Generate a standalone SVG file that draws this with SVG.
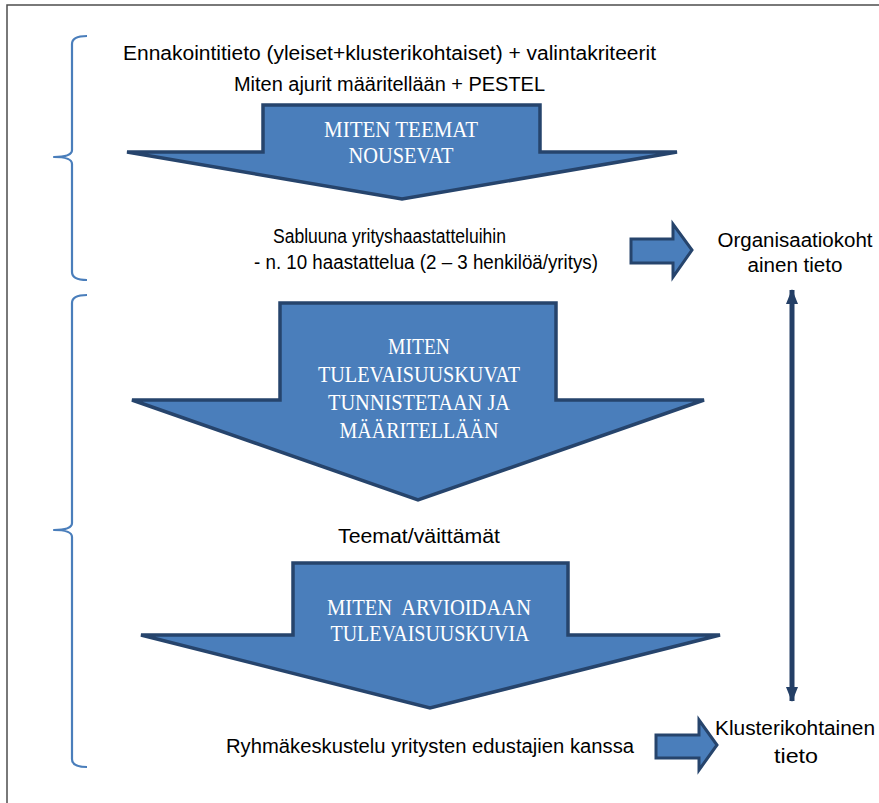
<svg xmlns="http://www.w3.org/2000/svg" width="879" height="803" viewBox="0 0 879 803">
  <style>
    .frame { fill: none; stroke: #4d4d4d; stroke-width: 1.5; }
    .brace { fill: none; stroke: #4a7ebb; stroke-width: 2.2; stroke-linejoin: round; }
    .big { fill: #4a7ebb; stroke: #26446c; stroke-width: 3.5; stroke-linejoin: miter; }
    .side { fill: #4a7ebb; stroke: #26446c; stroke-width: 3; stroke-linejoin: miter; }
    .lbl { font-family: "Liberation Sans", Arial, sans-serif; font-size: 19.5px; fill: #000; text-anchor: middle; }
    .in { font-family: "Liberation Serif", "Times New Roman", serif; font-size: 23px; fill: #ffffff; text-anchor: middle; }
  </style>
  <defs>
    <marker id="head" viewBox="0 0 15 12" refX="14" refY="6" markerWidth="15" markerHeight="12" markerUnits="userSpaceOnUse" orient="auto-start-reverse">
      <path d="M0,0 L15,6 L0,12 Z" fill="#243f66"/>
    </marker>
  </defs>

  <rect width="879" height="803" fill="#ffffff"/>
  <path class="frame" d="M7,803 V5 H879"/>

  <!-- curly braces grouping the phases -->
  <g id="brace-top">
    <path class="brace" d="M87,36 Q72,36 72,44 V150 Q72,157 54,157 Q72,157 72,164 V272 Q72,280 87,280"/>
  </g>
  <g id="brace-bottom">
    <path class="brace" d="M87,295 Q72,295 72,303 V523 Q72,530 54,530 Q72,530 72,537 V759 Q72,767 87,767"/>
  </g>

  <!-- input texts -->
  <g id="inputs">
    <text class="lbl" x="389.5" y="60" textLength="533" lengthAdjust="spacingAndGlyphs">Ennakointitieto (yleiset+klusterikohtaiset) + valintakriteerit</text>
    <text class="lbl" x="389.5" y="91" textLength="311" lengthAdjust="spacingAndGlyphs">Miten ajurit määritellään + PESTEL</text>
  </g>

  <!-- phase 1 -->
  <g id="phase-themes">
    <polygon class="big" points="263,105 540,105 540,152 677,152 402,199 127,152 263,152"/>
    <text class="in" x="401" y="137" textLength="154" lengthAdjust="spacingAndGlyphs">MITEN TEEMAT</text>
    <text class="in" x="401" y="163" textLength="105" lengthAdjust="spacingAndGlyphs">NOUSEVAT</text>
  </g>

  <g id="interviews">
    <text class="lbl" x="389.5" y="243" textLength="233" lengthAdjust="spacingAndGlyphs">Sabluuna yrityshaastatteluihin</text>
    <text class="lbl" x="426" y="269" textLength="344" lengthAdjust="spacingAndGlyphs">- n. 10 haastattelua (2 – 3 henkilöä/yritys)</text>
  </g>

  <!-- phase 2 -->
  <g id="phase-scenarios">
    <polygon class="big" points="280,303 556,303 556,400 704,400 418,500 132,400 280,400"/>
    <text class="in" x="419" y="354" textLength="62" lengthAdjust="spacingAndGlyphs">MITEN</text>
    <text class="in" x="419" y="382" textLength="202" lengthAdjust="spacingAndGlyphs">TULEVAISUUSKUVAT</text>
    <text class="in" x="419" y="410" textLength="182" lengthAdjust="spacingAndGlyphs">TUNNISTETAAN JA</text>
    <text class="in" x="419" y="438" textLength="159" lengthAdjust="spacingAndGlyphs">MÄÄRITELLÄÄN</text>
  </g>

  <g id="claims">
    <text class="lbl" x="419" y="543" textLength="162" lengthAdjust="spacingAndGlyphs">Teemat/väittämät</text>
  </g>

  <!-- phase 3 -->
  <g id="phase-evaluation">
    <polygon class="big" points="293,563 568,563 568,635 720,635 430,708 141,635 293,635"/>
    <text class="in" x="429" y="615" textLength="204" lengthAdjust="spacingAndGlyphs" xml:space="preserve">MITEN  ARVIOIDAAN</text>
    <text class="in" x="430" y="641" textLength="199" lengthAdjust="spacingAndGlyphs">TULEVAISUUSKUVIA</text>
  </g>

  <g id="group-discussion">
    <text class="lbl" x="430" y="753" textLength="408" lengthAdjust="spacingAndGlyphs">Ryhmäkeskustelu yritysten edustajien kanssa</text>
  </g>

  <!-- outcomes -->
  <g id="org-knowledge">
    <text class="lbl" x="795" y="247" textLength="155" lengthAdjust="spacingAndGlyphs">Organisaatiokoht</text>
    <text class="lbl" x="795" y="272" textLength="95" lengthAdjust="spacingAndGlyphs">ainen tieto</text>
  </g>
  <g id="cluster-knowledge">
    <text class="lbl" x="795" y="735" textLength="160" lengthAdjust="spacingAndGlyphs">Klusterikohtainen</text>
    <text class="lbl" x="796" y="763" textLength="44" lengthAdjust="spacingAndGlyphs">tieto</text>
  </g>

  <!-- connectors -->
  <g id="connectors">
    <polygon class="side" points="631,239 673,239 673,224 692,250 673,277 673,263 631,263"/>
    <polygon class="side" points="656,735 699,735 699,720 717,745 699,770 699,758 656,758"/>
    <line x1="792" y1="290" x2="792" y2="701" stroke="#243f66" stroke-width="5" marker-start="url(#head)" marker-end="url(#head)"/>
  </g>
</svg>
